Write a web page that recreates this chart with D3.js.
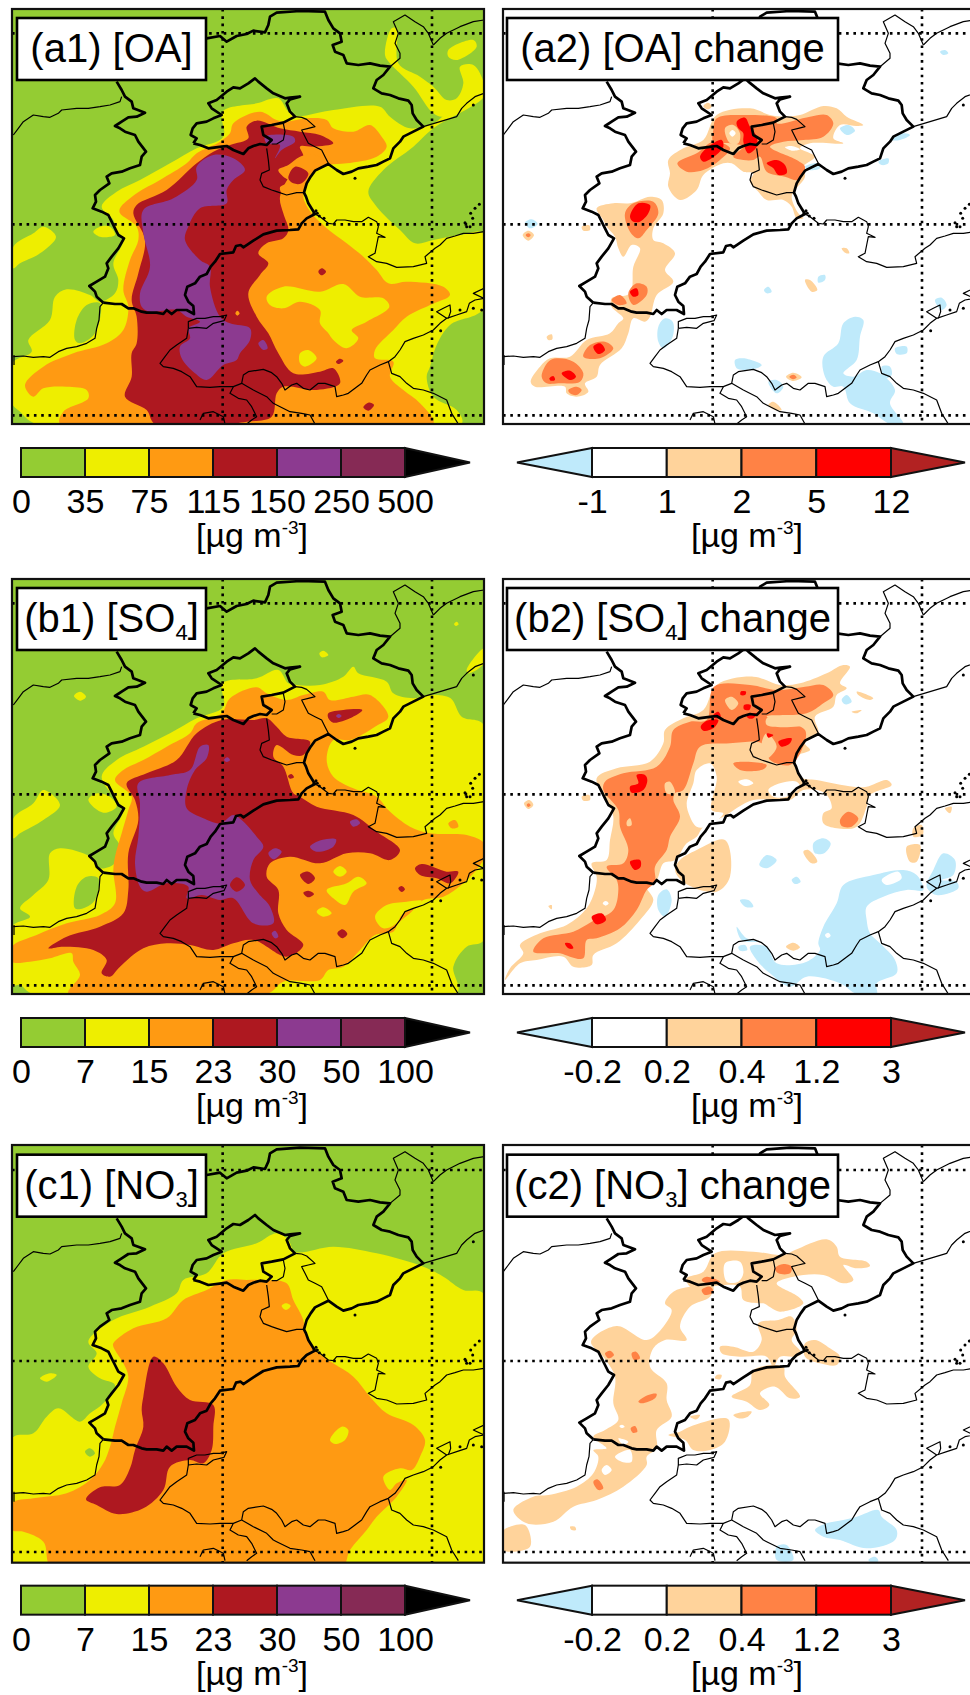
<!DOCTYPE html>
<html>
<head>
<meta charset="utf-8">
<script src="https://cdnjs.cloudflare.com/ajax/libs/d3/7.8.5/d3.min.js"></script>
<style>
  html, body { margin: 0; padding: 0; background: #fff; }
  text { font-family: "Liberation Sans", Arial, sans-serif; fill: #000; }
</style>
</head>
<body>
<svg width="970" height="1695"></svg>
<script>
// map grid positions (grid units, x 36-1452, y 27-1272)
var gridLon = [668, 1296];
var gridLat = [100, 673, 1246];

var absColors = ["#94cc33", "#eeee00", "#ff9a12", "#ae1820", "#8c3a90", "#862a55", "#000000"];
var chgColors = ["#bfeafb", "#ffffff", "#ffd39b", "#ff8245", "#ff0000", "#b22222"];

var labelsOA = ["0", "35", "75", "115", "150", "250", "500"];
var labelsInorg = ["0", "7", "15", "23", "30", "50", "100"];
var labelsChgOA = ["-1", "1", "2", "5", "12"];
var labelsChgInorg = ["-0.2", "0.2", "0.4", "1.2", "3"];

// provincial boundaries, flat x,y lists
var thickLines = [
  [310,908,345,912,365,912,385,925,400,925,425,935,440,938,470,938,490,942,500,930,515,942,530,930,560,930,582,942,580,918,565,905,555,885,562,860,585,850,600,830,620,822,632,800,645,785,660,762,700,757,708,738,722,735,730,742,760,722,790,703,830,692,870,690,895,688,905,670,920,655,945,642,925,610,918,590,912,578,920,550,932,530,945,512,985,492,1010,510,1030,522,1055,515,1075,505,1105,500,1130,495,1150,485,1170,475,1180,445,1200,425,1210,410,1240,395,1270,380,1250,360,1238,340,1235,315,1225,302,1195,295,1170,285,1145,280,1120,265,1130,240,1150,225,1170,200,1140,197,1110,190,1075,195,1040,190,1030,165,1005,155,998,135,1025,125,1020,100,1000,85,985,60,975,35,900,33,830,38,810,50,805,75,795,97,760,92,740,102,710,108,680,125,660,108,620,115],
  [350,245,365,270,375,290,395,305,400,325,435,338,410,350,385,352,365,365,345,378,360,385,375,395,405,405,415,425,438,455,425,470,420,495,390,505,365,515,335,520,320,530,328,550,300,570,285,585,288,605,278,625,305,635,325,645,335,665,345,685,355,705,372,715,355,745,335,770,320,790,325,805,315,830,290,845,268,858,285,875,290,890,310,908],
  [580,430,600,435,625,445,665,440,680,438,700,450,730,462,745,445,760,438,780,432,800,435,815,420,790,405,785,380,815,375,850,368,885,350,870,335,860,310,870,298,900,290,870,293,855,295,820,280,800,265,775,245,765,235,745,250,720,265,700,262,680,275,650,300,625,310,635,325,665,345,640,355,620,365,590,370,578,385,572,405,590,415,580,430]
];
var thinLines = [
  [40,405,55,385,70,365,100,345,130,350,150,352,175,340,185,330,230,325,265,325,300,320,330,315,360,305,365,290],
  [40,1070,70,1068,100,1072,130,1070,150,1072,175,1055,200,1045,230,1040,260,1030,285,1015,290,985,297,960,300,920,310,908],
  [42,1065,42,1095],
  [885,350,905,352,920,358,945,380,925,385,905,390,915,410,925,430,945,440,965,450,975,470,985,490],
  [800,445,805,480,808,510,785,520,780,540,790,560,815,570,830,575,860,585,890,578,912,578],
  [850,370,855,395,850,420,830,432,815,432],
  [565,985,565,965,590,955,615,955,640,950,660,950,680,945,672,962,640,970,620,985,590,982,565,985],
  [565,985,560,1015,530,1035,510,1050,495,1070,480,1090,490,1100,520,1105,545,1115,570,1130,590,1160,630,1162,660,1160,700,1160,725,1150,730,1125,745,1115,790,1108,815,1118,830,1130,845,1150,855,1170,875,1155,890,1150,910,1165,930,1170,955,1150,975,1150,1005,1160,1010,1190,1030,1185,1045,1180,1065,1165,1085,1150,1100,1125,1110,1110,1140,1095,1165,1085,1185,1070,1200,1050,1215,1025,1240,1015,1270,1005,1300,990,1320,970,1340,955,1370,945,1400,935,1408,910,1425,900,1452,895,1420,880,1452,865],
  [1340,955,1310,935,1330,925,1350,915,1352,935,1345,955],
  [700,1160,690,1180,715,1195,740,1200,755,1220,770,1250,755,1260,740,1272],
  [725,1150,760,1170,800,1190,820,1210,830,1215,870,1235,905,1240,930,1245,945,1272],
  [600,1260,610,1240,640,1235,670,1250,675,1272],
  [1165,1085,1175,1120,1200,1130,1220,1150,1240,1165,1270,1170,1300,1180,1340,1200,1355,1240,1375,1272],
  [1270,380,1320,365,1370,350,1385,325,1400,310,1425,290,1452,280],
  [1452,695,1420,700,1390,700,1365,708,1340,715,1320,735,1305,745,1275,770,1280,790,1240,800,1190,802,1160,790,1130,785,1105,770,1125,760,1130,735,1135,710,1155,712,1130,700,1135,680,1130,665,1105,652,1085,665,1060,665,1035,660,1010,660,1000,672,985,670,960,650,945,642],
  [1300,135,1285,100,1270,80,1245,65,1215,45,1180,65,1195,100,1185,130,1200,160,1200,175,1170,200],
  [1300,135,1320,115,1340,100,1380,80,1420,65,1452,60]
];
// coastal specks and small islands
var islands = [[1420,315],[1065,535],[1322,992],[1425,625],[1438,613],[1412,640],[1395,668],[1410,680],[1418,655],[1400,680],[948,632],[958,648],[972,655],[942,640],[952,640],[1445,930],[1420,925],[1380,930]];

// filled contours, painted in order: [colour level, [x,y,...]]
var layersA1 = [
  [1,[110,1272,60,1235,36,1210,36,1090,95,1055,85,1020,150,960,165,890,200,868,270,885,300,905,345,880,355,840,340,790,370,720,350,690,340,660,305,620,350,575,420,540,510,490,590,445,670,410,668,335,770,310,835,295,865,335,890,348,1000,330,1140,320,1170,350,1230,385,1300,370,1360,320,1452,265,1452,290,1300,385,1240,440,1150,510,1105,575,1130,620,1200,690,1245,730,1300,720,1380,705,1452,700,1452,925,1350,975,1310,1035,1290,1100,1280,1130,1300,1190,1370,1230,1385,1272]],
  [1,[1155,165,1175,85,1190,85,1195,190,1260,230,1300,260,1340,300,1370,295,1390,250,1380,200,1420,195,1452,250,1452,285,1330,350,1300,340,1240,260,1170,190]],
  [1,[1345,150,1420,120,1430,140,1370,180,1345,170]],
  [1,[40,740,100,700,130,680,168,710,120,760,60,790,40,805]],
  [1,[280,695,300,680,330,680,345,705,300,710]],
  [0,[225,1020,230,960,260,915,300,910,285,1000,240,1030]],
  [2,[75,1155,130,1100,220,1060,320,1030,370,990,385,920,370,870,390,780,415,720,410,680,360,640,360,625,410,580,480,540,560,490,590,460,660,425,690,400,700,370,780,335,830,360,860,365,920,355,980,360,1000,385,1060,395,1110,375,1145,410,1160,440,1130,470,1040,490,985,495,945,515,920,560,910,590,935,640,975,680,1040,730,1090,770,1130,810,1165,850,1220,845,1330,860,1350,885,1290,915,1220,950,1180,990,1125,1050,1125,1075,1180,1085,1170,1130,1210,1170,1260,1210,1300,1272,180,1272,190,1235,265,1195,260,1170,200,1160,130,1165,100,1190]],
  [1,[800,890,850,860,960,875,1030,852,1080,890,1150,895,1168,920,1100,965,1055,990,1075,1015,1040,1045,1000,1020,985,1000,960,970,960,930,900,905,850,925,810,915]],
  [1,[900,1060,925,1050,950,1075,915,1100,900,1090]],
  [3,[400,640,410,615,500,570,590,490,640,455,690,435,745,415,740,380,770,362,840,385,900,395,960,405,1000,430,940,440,900,440,910,470,880,510,840,590,850,640,865,690,850,715,800,730,775,760,805,790,780,825,745,880,770,950,805,1000,835,1060,880,1120,960,1115,1000,1105,1020,1150,950,1170,850,1160,830,1180,815,1250,740,1265,670,1272,465,1272,440,1230,375,1190,395,1130,395,1060,410,1030,410,950,395,900,415,820,435,720]],
  [2,[835,510,865,495,900,470,945,465,980,490,945,515,915,555,905,585,850,585,840,562,870,545,850,530]],
  [3,[865,535,885,500,925,520,905,550,880,550]],
  [3,[955,815,965,805,978,815,965,826]],
  [3,[1090,1222,1105,1208,1122,1215,1105,1232]],
  [3,[1008,1085,1020,1076,1030,1082,1015,1092]],
  [2,[706,940,712,932,719,940,712,947]],
  [4,[430,630,520,595,590,540,590,500,640,465,700,475,735,510,700,540,680,570,680,610,600,625,565,680,555,720,600,780,630,800,630,860,660,950,690,970,750,985,750,1020,720,1060,710,1080,670,1095,620,1140,585,1120,545,1075,540,1040,570,1015,565,985,600,965,560,950,530,930,450,935,425,920,420,880,450,800,430,700]],
  [4,[795,410,880,410,885,425,845,450,825,475,840,435,800,430]],
  [4,[775,1030,790,1020,803,1045,790,1050]]
];

var layersA2 = [
  [2,[535,480,580,445,640,420,680,345,780,325,840,345,880,350,930,345,1000,318,1040,325,1070,350,1120,375,1100,378,1050,375,1030,415,1060,430,960,430,930,445,975,470,940,500,945,530,915,570,905,590,925,640,940,655,920,655,905,620,880,600,830,600,805,575,780,545,790,520,760,515,725,490,700,490,640,525,620,570,570,600,535,560,540,520]],
  [2,[320,625,370,610,420,610,480,590,515,600,520,640,490,685,490,720,520,730,555,760,525,810,550,845,500,885,480,950,465,965,430,955,415,1000,395,1045,330,1095,320,1130,285,1150,295,1175,260,1190,230,1180,225,1160,135,1160,122,1145,150,1100,180,1075,240,1070,290,1020,360,1000,385,970,400,955,365,920,365,895,420,880,430,800,450,745,425,735,400,770,385,745,375,710,350,680,340,660]],
  [3,[562,490,620,460,670,425,720,445,690,480,640,510,590,515]],
  [3,[680,355,770,345,860,355,860,370,960,350,1010,345,1030,370,1000,410,940,420,880,425,840,440,920,480,945,500,925,540,885,530,830,515,810,470,790,480,760,480,730,470,760,440,720,430,670,425,670,390]],
  [2,[705,385,730,375,750,400,745,430,720,430]],
  [1,[718,400,728,390,737,400,727,410]],
  [1,[885,442,905,438,930,448,905,452]],
  [3,[405,640,430,610,490,605,505,640,470,690,445,715,420,695]],
  [3,[415,880,440,850,470,860,470,885,430,915]],
  [3,[365,900,390,885,410,910,385,915]],
  [3,[280,1070,300,1035,345,1025,370,1045,330,1075]],
  [3,[155,1130,175,1085,200,1075,250,1085,280,1120,270,1145,205,1150,170,1150]],
  [3,[235,1170,260,1160,275,1170,260,1185,240,1180]],
  [2,[98,705,115,692,132,705,115,722]],
  [3,[107,705,115,700,122,705,115,712]],
  [2,[640,318,655,308,665,320,652,328]],
  [2,[888,1130,910,1118,935,1132,910,1143]],
  [3,[898,1130,910,1124,920,1132,910,1138]],
  [2,[835,1215,850,1205,875,1230,855,1230]],
  [2,[1055,745,1070,745,1078,760,1065,758]],
  [2,[945,840,960,840,982,870,965,875]],
  [2,[275,680,298,676,300,690,280,692]],
  [2,[170,1010,185,1003,187,1018,175,1020]],
  [4,[630,470,655,440,695,420,700,440,665,475,640,485]],
  [4,[740,365,765,353,780,380,800,410,800,440,775,460,760,425,760,400,745,385]],
  [4,[830,490,860,480,885,495,890,520,865,525,850,505]],
  [4,[420,650,445,610,480,615,475,640,450,665,430,665]],
  [4,[420,875,440,865,445,885,430,890]],
  [4,[310,1040,330,1030,345,1050,325,1062]],
  [4,[215,1120,240,1112,258,1130,240,1140]],
  [4,[178,1135,190,1128,195,1140,182,1142]],
  [0,[105,668,125,658,143,672,120,685]],
  [0,[1050,385,1075,375,1095,392,1070,405]],
  [0,[1350,155,1365,150,1375,160,1360,165]],
  [0,[1205,420,1240,400,1260,405,1230,420]],
  [0,[945,500,985,490,990,505,955,510]],
  [0,[1165,485,1195,475,1195,490,1175,495]],
  [0,[985,830,1005,825,1005,840,985,848]],
  [0,[822,870,835,860,845,875,830,880]],
  [0,[505,980,525,955,548,965,548,1010,520,1045,505,1025]],
  [0,[1045,1030,1060,970,1095,950,1120,960,1110,1010,1100,1080,1060,1120,1090,1130,1130,1110,1170,1120,1215,1170,1200,1210,1240,1272,1200,1272,1150,1240,1080,1210,1060,1160,1030,1160,1005,1130,1000,1070]],
  [0,[735,1080,760,1075,815,1095,800,1105,760,1110,740,1105]],
  [0,[835,1145,860,1140,880,1160,860,1180]],
  [0,[1175,1100,1200,1100,1205,1125,1185,1135]],
  [0,[1335,900,1355,893,1370,915,1355,930]],
  [0,[1215,1045,1250,1040,1250,1060,1220,1062]]
];

var layersB1 = [
  [1,[100,1272,60,1245,36,1245,36,1070,90,1040,60,1015,100,975,145,930,150,850,180,835,270,860,300,895,345,880,360,830,340,790,370,720,350,690,305,620,350,570,430,530,510,490,590,445,670,410,668,340,770,325,835,300,865,340,890,345,960,345,1030,320,1060,290,1075,310,1160,335,1180,370,1240,385,1300,375,1352,385,1385,440,1452,465,1452,1110,1400,1130,1360,1190,1370,1272]],
  [0,[225,1015,230,950,260,920,295,925,285,990,250,1015]],
  [1,[40,745,100,700,130,660,180,705,130,750,60,790,40,805]],
  [1,[265,690,290,670,330,680,350,710,310,728]],
  [1,[222,378,240,365,258,380,240,392]],
  [1,[958,250,970,242,985,255,965,262]],
  [1,[1400,300,1452,235,1452,280,1405,310]],
  [1,[1362,162,1370,155,1376,163,1368,168]],
  [2,[36,1130,110,1095,200,1060,300,1035,345,1000,340,900,345,860,365,790,385,720,395,680,345,630,370,600,430,570,500,530,570,490,590,460,665,430,690,385,770,352,800,370,860,390,910,375,970,365,990,390,1060,380,1110,375,1165,440,1125,470,1050,510,1000,510,980,570,1000,620,1060,655,1130,680,1165,720,1230,770,1290,790,1400,795,1452,820,1452,865,1390,940,1330,980,1270,990,1230,1030,1195,1060,1180,1085,1125,1095,1080,1140,1030,1190,985,1200,960,1230,850,1235,800,1272,205,1272,240,1215,220,1175,215,1150,150,1165,90,1175,36,1175]],
  [2,[1345,760,1365,750,1375,770,1355,775]],
  [1,[1125,1040,1160,1005,1220,995,1265,992,1240,1015,1205,1035,1190,1060,1150,1075]],
  [1,[1000,905,1020,888,1040,905,1020,920]],
  [1,[980,960,1040,940,1075,920,1100,940,1060,965,1035,1005,1000,985]],
  [1,[950,1025,970,1012,995,1030,970,1040]],
  [3,[380,640,440,610,530,570,590,490,665,450,760,450,800,445,830,470,860,500,930,515,910,555,880,555,830,525,820,560,850,590,880,670,900,680,950,710,1060,735,1130,785,1200,840,1170,870,1110,850,1040,850,960,880,870,860,810,880,800,920,835,960,835,1030,860,1080,910,1125,860,1160,760,1110,700,1120,640,1140,570,1125,500,1120,430,1135,360,1190,330,1220,305,1210,320,1170,280,1140,190,1130,145,1135,200,1100,300,1070,370,1030,385,960,385,850,415,750,405,690]],
  [3,[864,618,874,612,882,622,870,626]],
  [3,[900,915,925,905,945,925,925,942]],
  [3,[910,968,925,962,942,972,925,982]],
  [3,[1195,955,1205,948,1215,958,1205,966]],
  [3,[1012,1090,1027,1078,1042,1092,1027,1105]],
  [3,[1245,895,1265,882,1340,905,1375,905,1350,940,1310,925,1260,915]],
  [3,[985,430,1030,420,1087,420,1050,445,1000,458,985,445]],
  [4,[415,640,510,615,570,600,600,530,625,525,620,565,585,600,560,660,560,715,610,745,660,760,700,735,725,750,770,800,790,830,760,870,750,930,775,970,810,1010,820,1060,760,1060,700,985,660,990,605,975,560,985,565,950,500,940,440,965,420,950,405,880,415,800,420,700]],
  [3,[690,945,710,922,735,945,710,965]],
  [4,[930,830,965,810,1008,808,1000,830,950,845]],
  [4,[805,850,825,835,845,845,820,868]],
  [4,[1050,755,1070,748,1080,760,1060,770]],
  [4,[815,1090,825,1082,835,1100,825,1105]],
  [4,[672,570,682,562,690,570,680,576]],
  [4,[1008,438,1016,432,1025,438,1016,444]]
];

var layersB2 = [
  [2,[45,1230,60,1195,100,1150,90,1125,150,1090,230,1065,290,1015,315,960,320,920,305,880,350,870,360,810,370,740,350,690,320,625,380,595,480,575,520,520,525,480,580,445,640,420,680,345,790,320,870,345,930,340,1010,310,1060,285,1080,290,1050,340,1070,355,1040,375,1030,410,975,440,985,490,945,520,960,540,920,560,930,620,980,630,1090,650,1130,650,1190,630,1205,645,1140,675,1130,710,1100,770,1040,775,1000,760,1000,730,1025,715,1005,670,940,660,900,690,790,690,700,740,640,770,620,800,590,820,555,870,520,880,500,930,470,950,490,990,450,1050,380,1120,310,1155,305,1185,250,1190,220,1160,140,1170,90,1180]],
  [1,[620,600,660,580,680,620,665,720,700,730,650,770,620,770,600,740,590,700,610,640]],
  [1,[745,635,770,628,790,640,765,648]],
  [1,[835,660,870,640,920,635,930,650,890,680,850,680]],
  [2,[570,870,620,840,705,810,720,920,680,965,585,940,555,900]],
  [3,[345,635,400,610,500,590,540,530,550,480,600,455,650,450,672,350,780,345,860,360,945,350,1000,345,1030,375,1000,400,950,430,830,440,945,480,935,540,900,585,840,570,830,540,815,520,800,515,720,520,630,530,610,580,580,660,555,670,550,690,570,740,540,800,530,840,495,890,495,935,470,960,440,1020,390,1075,320,1105,290,1110,280,1165,240,1160,210,1150,130,1145,160,1105,250,1085,305,1055,370,1020,385,960,380,930,350,890,400,880,415,840,390,770,385,720,340,660]],
  [2,[705,390,725,380,745,400,725,420]],
  [2,[830,445,880,440,945,465,830,465]],
  [2,[815,520,830,490,860,530,830,565]],
  [2,[525,640,540,635,555,670,530,670]],
  [2,[410,755,420,745,425,765,412,768]],
  [3,[730,580,760,575,830,585,820,598,750,600]],
  [3,[1050,750,1075,725,1105,745,1085,770,1055,768]],
  [1,[338,1000,347,993,356,1000,347,1007]],
  [2,[1100,365,1150,385,1140,390,1105,375]],
  [2,[1085,425,1115,420,1100,430]],
  [2,[1250,830,1290,825,1280,875,1260,875]],
  [2,[1270,775,1295,765,1298,795,1270,800]],
  [2,[940,845,955,840,982,875,965,880]],
  [2,[888,1130,910,1118,930,1132,910,1142]],
  [2,[1365,715,1385,710,1380,730]],
  [2,[275,680,298,675,300,690,280,692]],
  [2,[102,700,118,690,130,705,115,717]],
  [3,[110,705,116,700,122,706,115,711]],
  [2,[175,1008,185,1005,185,1018]],
  [4,[632,470,650,452,685,450,670,475,640,482]],
  [4,[670,435,685,425,692,440,675,445]],
  [4,[752,365,768,365,765,375,752,375]],
  [4,[762,405,782,405,778,420,762,418]],
  [4,[770,435,800,430,790,445,775,445]],
  [4,[865,515,905,505,900,520,875,530]],
  [4,[830,490,850,495,835,503]],
  [4,[420,650,445,640,440,615,465,615,472,630,460,660,425,668]],
  [4,[420,875,450,870,452,890,435,900]],
  [4,[305,1040,335,1030,348,1050,320,1063]],
  [4,[225,1120,240,1120,250,1135,235,1135]],
  [0,[985,1120,1000,1070,1040,1000,1060,945,1150,915,1240,900,1280,915,1300,960,1250,960,1180,980,1130,1010,1130,1050,1140,1090,1170,1120,1215,1170,1220,1210,1160,1240,1160,1272,1100,1272,1050,1240,950,1220,900,1250,840,1210,800,1170,780,1130,830,1130,860,1180,950,1175,990,1140]],
  [1,[1175,930,1225,905,1235,925,1190,945]],
  [1,[1005,1095,1015,1088,1022,1097,1012,1104]],
  [0,[1330,900,1360,850,1395,870,1390,915,1355,930,1400,935,1405,955,1340,975,1310,950]],
  [0,[970,820,1000,805,1022,820,1005,848,975,850]],
  [0,[808,885,830,855,860,870,830,895]],
  [0,[905,930,920,920,932,935,915,942]],
  [0,[505,975,530,958,545,990,525,1040,505,1020]],
  [0,[750,990,775,990,790,1010,765,1010]],
  [0,[740,1070,770,1105,810,1115,755,1110]],
  [0,[1055,390,1070,375,1085,395,1065,403]],
  [0,[745,1130,765,1125,772,1140,750,1142]]
];

var layersC1 = [
  [1,[36,895,100,880,140,830,175,805,240,845,270,820,310,790,345,735,300,715,265,680,290,640,265,605,340,540,450,500,530,460,550,420,620,400,670,340,770,310,830,280,865,300,885,335,1000,320,1130,340,1270,380,1330,410,1390,450,1452,462,1452,1290,36,1290]],
  [0,[255,935,270,925,285,940,270,950]],
  [1,[120,715,150,700,170,705,140,725]],
  [2,[340,620,340,610,400,565,500,535,550,480,620,450,680,420,740,420,800,420,860,430,880,480,910,540,915,580,945,630,1000,670,1060,710,1110,770,1160,820,1240,855,1275,900,1260,950,1235,990,1200,985,1150,1010,1170,1050,1190,1030,1220,1020,1190,1070,1130,1130,1100,1170,1050,1230,1020,1290,160,1290,130,1205,70,1175,36,1170,36,1090,100,1075,200,1060,270,1020,310,970,330,920,345,860,365,790,385,710,370,670]],
  [1,[845,498,858,490,872,498,858,510]],
  [1,[990,900,1025,860,1045,870,1035,900,1005,912]],
  [3,[430,770,460,650,490,670,530,740,570,780,640,795,640,860,635,930,610,970,570,960,510,980,490,1050,430,1105,350,1122,290,1095,258,1078,300,1042,360,1035,390,985,405,930,430,860,425,810]]
];

var layersC2 = [
  [2,[590,415,640,395,675,340,790,335,880,345,915,330,1010,298,1040,320,1050,350,1130,365,1140,378,1100,385,1060,375,1090,420,1060,430,1000,405,910,410,860,430,925,470,940,490,870,515,820,490,810,490,760,480,750,440,700,435,660,440,600,440]],
  [1,[705,370,750,365,760,400,745,425,710,425]],
  [2,[525,490,550,455,600,440,670,440,660,470,600,500,570,560,590,600,525,600,490,625,480,680,530,730,530,780,545,830,500,870,500,925,470,950,470,975,400,1040,320,1080,250,1100,190,1145,110,1150,70,1110,130,1070,175,1065,260,1040,310,1000,325,950,310,930,350,925,310,890,345,870,385,840,370,790,375,710,340,650,303,605,380,558,470,600,520,560,545,510]],
  [1,[375,950,420,930,425,965,395,965]],
  [1,[335,990,350,975,365,990,345,1005]],
  [1,[388,858,396,854,404,860,395,864]],
  [1,[385,895,415,905,400,915]],
  [2,[805,550,865,540,905,530,920,570,905,600,935,640,920,650,870,650,850,680,830,650,750,650,695,640,690,620,730,620,790,635,815,600]],
  [2,[945,610,975,600,1020,625,1050,650,1040,675,990,670,945,650]],
  [2,[790,690,880,680,885,710,930,770,900,775,855,740,810,760,838,795,810,810,770,785,725,770,780,735]],
  [2,[730,825,785,815,770,832,745,835]],
  [2,[600,830,630,825,620,838]],
  [2,[600,860,715,838,705,905,660,930,610,930,585,900,535,885,570,875]],
  [2,[680,705,695,705,690,718,675,715]],
  [2,[36,1175,105,1155,120,1220,36,1230]],
  [2,[240,1160,255,1160,258,1170,245,1170]],
  [3,[635,420,650,410,690,425,650,430]],
  [3,[635,450,660,440,670,455,645,465]],
  [3,[855,385,880,372,905,380,900,400,865,400]],
  [3,[345,640,360,632,372,645,355,655]],
  [3,[425,640,438,635,450,655,432,660]],
  [3,[445,785,475,765,500,762,495,775,455,790]],
  [3,[422,865,435,858,442,875,428,878]],
  [3,[310,1025,322,1018,340,1045,325,1050]],
  [0,[975,1170,1010,1150,1060,1140,1100,1130,1165,1110,1175,1130,1220,1170,1215,1200,1130,1225,1050,1200,1000,1190]],
  [0,[860,1220,890,1215,910,1260,860,1260]],
  [0,[1135,1260,1155,1250,1165,1262,1150,1270]]
];

var svg = d3.select("svg");

var colX = [0, 490];
var rowY = [0, 570, 1136.67];
// contour lists of the last row were read 10 grid units higher than the boundaries
var contourShift = [0, 0, 10];
var frameV = [[27, 1272], [27, 1272], [25, 1278]];

var panels = [
  {id: "a1", col: 0, row: 0, layers: layersA1, colors: absColors, bg: 0, title: "(a1) [OA]", sub: null},
  {id: "a2", col: 1, row: 0, layers: layersA2, colors: chgColors, bg: 1, title: "(a2) [OA]", after: " change", sub: null},
  {id: "b1", col: 0, row: 1, layers: layersB1, colors: absColors, bg: 0, title: "(b1) [SO", sub: "4"},
  {id: "b2", col: 1, row: 1, layers: layersB2, colors: chgColors, bg: 1, title: "(b2) [SO", sub: "4", after: " change"},
  {id: "c1", col: 0, row: 2, layers: layersC1, colors: absColors, bg: 0, title: "(c1) [NO", sub: "3"},
  {id: "c2", col: 1, row: 2, layers: layersC2, colors: chgColors, bg: 1, title: "(c2) [NO", sub: "3", after: " change"}
];

function toPairs(flat) {
  var out = [];
  for (var i = 0; i < flat.length; i += 2) out.push([flat[i], flat[i + 1]]);
  return out;
}

panels.forEach(function(p) {
  var x = d3.scaleLinear().domain([0, 3]).range([colX[p.col], colX[p.col] + 1]);
  var y = d3.scaleLinear().domain([0, 3]).range([rowY[p.row], rowY[p.row] + 1]);
  var shift = contourShift[p.row];
  var v0 = frameV[p.row][0], v1 = frameV[p.row][1];
  var u0 = p.col == 0 ? 36 : 39, u1 = 1452;

  var g = svg.append("g");
  g.append("clipPath").attr("id", "clip" + p.id)
    .append("rect")
    .attr("x", x(u0)).attr("y", y(v0))
    .attr("width", x(u1) - x(u0)).attr("height", y(v1) - y(v0));

  var map = g.append("g").attr("clip-path", "url(#clip" + p.id + ")");

  map.append("rect")
    .attr("x", x(u0)).attr("y", y(v0))
    .attr("width", x(u1) - x(u0)).attr("height", y(v1) - y(v0))
    .attr("fill", p.colors[p.bg]);

  var area = d3.line()
    .x(function(d) { return x(d[0]); })
    .y(function(d) { return y(d[1] + shift); })
    .curve(d3.curveCatmullRomClosed.alpha(0.5));

  map.selectAll("path.level")
    .data(p.layers)
    .enter()
    .append("path")
    .attr("class", "level")
    .attr("fill", function(d) { return p.colors[d[0]]; })
    .attr("d", function(d) { return area(toPairs(d[1])); });

  // dotted lat/lon lines
  map.selectAll("line.lon").data(gridLon).enter().append("line")
    .attr("x1", function(d) { return x(d); }).attr("x2", function(d) { return x(d); })
    .attr("y1", y(v0)).attr("y2", y(v1));
  map.selectAll("line.lat").data(gridLat).enter().append("line")
    .attr("y1", function(d) { return y(d); }).attr("y2", function(d) { return y(d); })
    .attr("x1", x(u0)).attr("x2", x(u1));
  map.selectAll("line")
    .attr("stroke", "#000").attr("stroke-width", 2.6)
    .attr("stroke-dasharray", "2.6 4.7");

  var border = d3.line()
    .x(function(d) { return x(d[0]); })
    .y(function(d) { return y(d[1]); });

  map.selectAll("path.thin").data(thinLines).enter().append("path")
    .attr("class", "thin").attr("fill", "none").attr("stroke", "#000")
    .attr("stroke-width", 1.2).attr("stroke-linejoin", "round")
    .attr("d", function(d) { return border(toPairs(d)); });
  map.selectAll("path.thick").data(thickLines).enter().append("path")
    .attr("class", "thick").attr("fill", "none").attr("stroke", "#000")
    .attr("stroke-width", 2.7).attr("stroke-linejoin", "round")
    .attr("d", function(d) { return border(toPairs(d)); });
  map.selectAll("circle").data(islands).enter().append("circle")
    .attr("cx", function(d) { return x(d[0]); })
    .attr("cy", function(d) { return y(d[1]); })
    .attr("r", 1.5).attr("fill", "#000");

  g.append("rect")
    .attr("x", x(u0)).attr("y", y(v0))
    .attr("width", x(u1) - x(u0)).attr("height", y(v1) - y(v0))
    .attr("fill", "none").attr("stroke", "#111").attr("stroke-width", 2.2);

  // panel title box
  var boxW = p.col == 0 ? 189 : 331;
  var boxX = colX[p.col] + 17;
  var boxY = y(54);
  g.append("rect")
    .attr("x", boxX).attr("y", boxY)
    .attr("width", boxW).attr("height", 62)
    .attr("fill", "#fff").attr("stroke", "#000").attr("stroke-width", 2.6);

  var label = g.append("text")
    .attr("x", boxX + boxW / 2).attr("y", boxY + 44)
    .attr("text-anchor", "middle")
    .attr("font-size", 40);
  label.append("tspan").text(p.title);
  if (p.sub) {
    label.append("tspan").attr("font-size", 22).attr("dy", 8).text(p.sub);
    label.append("tspan").attr("dy", -8).text("]");
  }
  if (p.after) label.append("tspan").text(p.after);
});

// colour bars
var bars = [
  {col: 0, row: 0, labels: labelsOA, colors: absColors},
  {col: 1, row: 0, labels: labelsChgOA, colors: chgColors},
  {col: 0, row: 1, labels: labelsInorg, colors: absColors},
  {col: 1, row: 1, labels: labelsChgInorg, colors: chgColors},
  {col: 0, row: 2, labels: labelsInorg, colors: absColors},
  {col: 1, row: 2, labels: labelsChgInorg, colors: chgColors}
];

var barTop = 448, barH = 29;

bars.forEach(function(b) {
  var top = barTop + rowY[b.row] + (b.row == 2 ? 1 : 0);
  var g = svg.append("g");
  var x0 = b.col == 0 ? 21 : 592;
  var x1 = b.col == 0 ? 405 : 891;
  var pos = d3.scalePoint().domain(b.labels).range([x0, x1]);
  var steps = b.labels.slice(0, -1);
  var first = b.col == 0 ? b.colors.slice(0, 6) : b.colors.slice(1, 5);

  g.selectAll("rect").data(steps).enter().append("rect")
    .attr("x", function(d) { return pos(d); })
    .attr("y", top)
    .attr("width", pos.step())
    .attr("height", barH)
    .attr("fill", function(d, i) { return first[i]; })
    .attr("stroke", "#111").attr("stroke-width", 2);

  function tip(base, end, color) {
    g.append("path")
      .attr("d", "M" + base + "," + top + "L" + end + "," + (top + barH / 2) + "L" + base + "," + (top + barH) + "Z")
      .attr("fill", color).attr("stroke", "#111").attr("stroke-width", 2).attr("stroke-linejoin", "miter");
  }
  if (b.col == 0) {
    tip(x1, 470, b.colors[6]);
  } else {
    tip(x0, 517, b.colors[0]);
    tip(x1, 965, b.colors[5]);
  }

  var axis = d3.axisBottom(pos).tickSize(0).tickPadding(12);
  var ax = g.append("g").attr("transform", "translate(0," + (top + barH) + ")").call(axis);
  ax.select(".domain").remove();
  ax.selectAll("text")
    .attr("font-size", 34)
    .attr("font-family", '"Liberation Sans", Arial, sans-serif')
    .attr("fill", "#000");

  var unit = g.append("text")
    .attr("x", b.col == 0 ? 252 : 747)
    .attr("y", top + 99)
    .attr("text-anchor", "middle")
    .attr("font-size", 34);
  unit.append("tspan").text("[\u00b5g m");
  unit.append("tspan").attr("font-size", 19).attr("dy", -13).text("-3");
  unit.append("tspan").attr("dy", 13).text("]");
});
</script>
</body>
</html>
